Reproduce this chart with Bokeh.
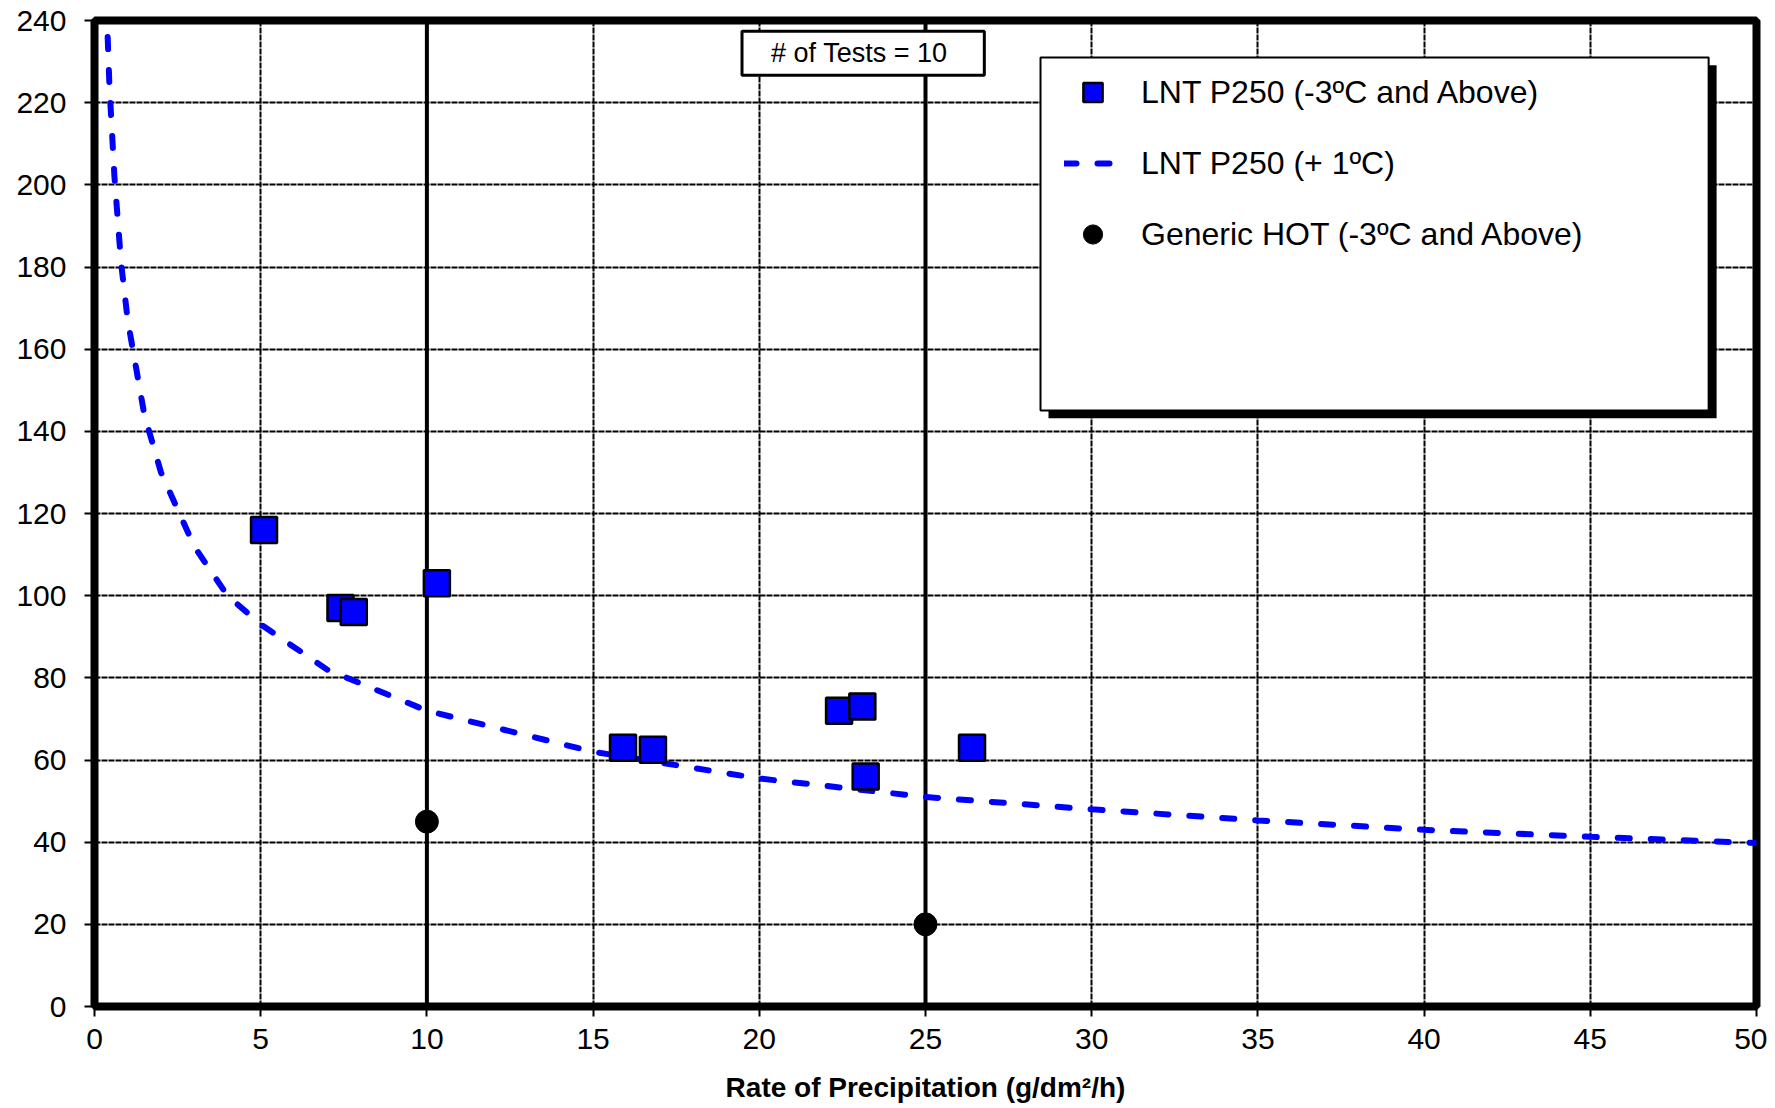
from bokeh.plotting import figure
from bokeh.models import Range1d, FixedTicker, Span, BoxAnnotation, Label, Legend, LegendItem
from bokeh.embed import file_html
from bokeh.resources import INLINE

# ---------------- data ----------------
lnt_x = [5.1, 7.4, 7.8, 10.3, 15.9, 16.8, 22.4, 23.1, 23.2, 26.4]
lnt_y = [116, 97, 96, 103, 63, 62.5, 72, 73, 56, 63]

curve_x = [0.36, 0.45, 0.6, 0.8, 1.0, 1.5, 2, 3, 4, 5, 7, 10, 15, 20, 25, 30, 35, 40, 45, 50]
curve_y = [244, 224, 202, 181, 167, 144, 130, 112, 100, 93, 82, 72, 62, 55.5, 51, 48, 45.3, 43, 41.3, 39.8]

hot_x = [10, 25]
hot_y = [45, 20]

ref_lines_x = [10, 25]

x_ticks = list(range(0, 51, 5))
y_ticks = list(range(0, 241, 20))

series_names = ["LNT P250 (-3ºC and Above)", "LNT P250 (+ 1ºC)", "Generic HOT (-3ºC and Above)"]
x_title = "Rate of Precipitation (g/dm²/h)"

FONT = "Liberation Sans"
BLUE = "#0000FF"

# ---------------- figure ----------------
p = figure(frame_width=1662, frame_height=986,
           min_border_left=94, min_border_right=11, min_border_top=20, min_border_bottom=10,
           x_range=Range1d(0, 50), y_range=Range1d(0, 240),
           output_backend="svg", toolbar_location=None,
           background_fill_color="white", border_fill_color="white")

p.outline_line_color = "black"
p.outline_line_width = 8

for ax in (p.xaxis[0], p.yaxis[0]):
    ax.axis_line_color = None
    ax.major_tick_line_color = "black"
    ax.major_tick_line_width = 2
    ax.major_tick_out = 10
    ax.major_tick_in = 0
    ax.minor_tick_line_color = None
    ax.major_label_text_font = FONT
    ax.major_label_text_font_size = "30px"
    ax.major_label_text_color = "black"

p.xaxis.ticker = FixedTicker(ticks=x_ticks)
p.yaxis.ticker = FixedTicker(ticks=y_ticks)
p.xaxis.major_label_standoff = 12
p.yaxis.major_label_standoff = 18
p.xaxis.axis_label = x_title
p.xaxis.axis_label_text_font = FONT
p.xaxis.axis_label_text_font_size = "28px"
p.xaxis.axis_label_text_font_style = "bold"
p.xaxis.axis_label_text_color = "black"
p.xaxis.axis_label_standoff = 20

p.grid.grid_line_color = "black"
p.grid.grid_line_width = 2
p.grid.grid_line_dash = "6 1"

for xv in ref_lines_x:
    p.add_layout(Span(location=xv, dimension="height", line_color="black",
                      line_width=4, level="underlay"))

ln = p.line(curve_x, curve_y, line_color=BLUE, line_width=6,
            line_dash="12 21", line_cap="round")
sq = p.scatter(lnt_x, lnt_y, marker="square", size=26, fill_color=BLUE,
               line_color="black", line_width=2.5)
ci = p.scatter(hot_x, hot_y, marker="circle", size=23, fill_color="black",
               line_color="black")

# "# of Tests" box
p.add_layout(BoxAnnotation(left=19.48, right=26.77, top=237.4, bottom=226.7,
                           fill_color="white", fill_alpha=1,
                           line_color="black", line_alpha=1, line_width=3))
p.add_layout(Label(x=23.12, y=232.0, text=f"# of Tests =  {len(lnt_x)}",
                   text_font=FONT, text_font_size="27px", text_color="black",
                   text_align="center", text_baseline="middle"))

# legend box with shadow
p.add_layout(BoxAnnotation(left=28.70, right=48.80, top=229.1, bottom=143.2,
                           fill_color="black", fill_alpha=1, line_color=None))
p.add_layout(BoxAnnotation(left=28.46, right=48.56, top=231.0, bottom=145.1,
                           fill_color="white", fill_alpha=1,
                           line_color="black", line_alpha=1, line_width=2))

legend = Legend(items=[LegendItem(label=series_names[0], renderers=[sq]),
                       LegendItem(label=series_names[1], renderers=[ln]),
                       LegendItem(label=series_names[2], renderers=[ci])],
                location=(970, 748),
                label_text_font=FONT, label_text_font_size="32px", label_text_color="black",
                glyph_width=57, glyph_height=48, label_height=48,
                label_standoff=20, spacing=23, padding=0, margin=0,
                border_line_alpha=0, background_fill_alpha=0)
p.add_layout(legend)

open("out.html", "w").write(file_html(p, INLINE))
